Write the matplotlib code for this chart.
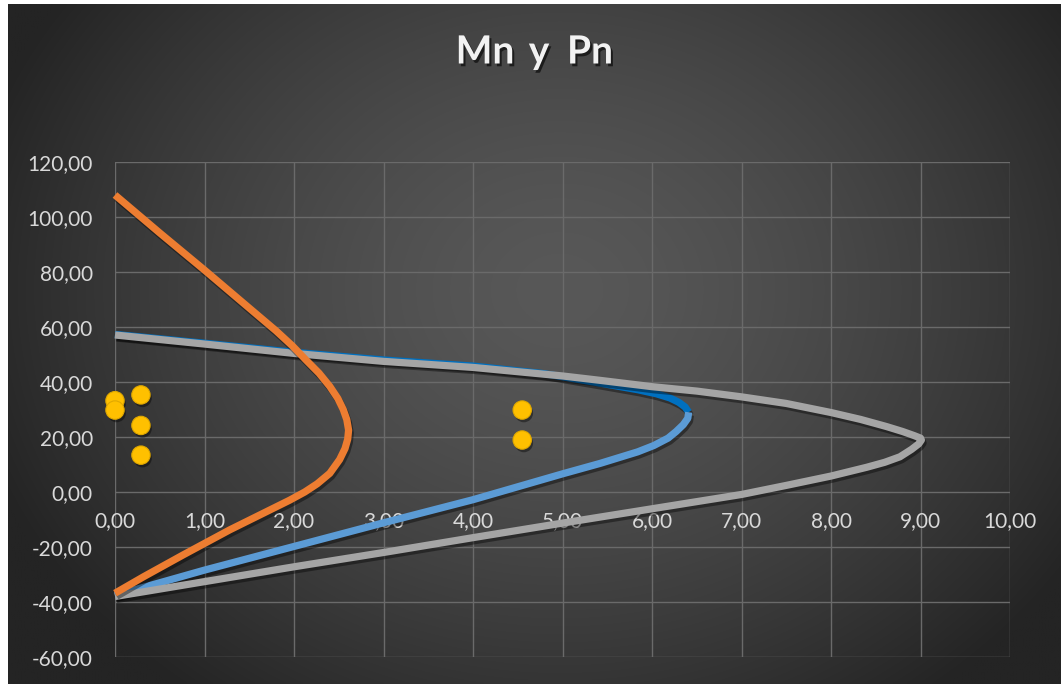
import numpy as np
import matplotlib
matplotlib.use("Agg")
import matplotlib.pyplot as plt
import matplotlib.patheffects as pe

# ---- data ----
orange_M = [0.00, 0.50, 1.00, 1.51, 1.80, 1.98, 2.14, 2.28, 2.40, 2.49, 2.55, 2.59, 2.61, 2.60, 2.57, 2.51, 2.40, 2.26, 2.12, 1.95, 1.77, 1.28, 0.76, 0.32, 0.00]
orange_P = [108.0, 94.2, 80.7, 66.6, 58.6, 53.2, 47.8, 43.2, 38.4, 34.0, 30.0, 26.3, 22.5, 19.2, 15.8, 11.8, 6.8, 3.0, 0.0, -3.0, -5.9, -13.8, -22.9, -30.8, -36.8]

blue_up_M = [0.00, 1.00, 2.00, 3.00, 4.00, 4.80, 5.42, 5.84, 6.05, 6.20, 6.30, 6.37, 6.41]
blue_up_P = [57.3, 54.1, 50.8, 48.0, 45.8, 43.0, 39.6, 37.2, 35.7, 34.2, 32.6, 30.9, 29.0]

blue_lo_M = [6.41, 6.40, 6.35, 6.27, 6.18, 6.02, 5.84, 5.42, 5.00, 4.00, 3.00, 2.00, 1.00, 0.00]
blue_lo_P = [29.0, 26.8, 24.5, 22.0, 19.6, 16.9, 14.6, 10.4, 6.6, -2.8, -11.2, -19.8, -28.4, -37.6]

gray_M = [0.00, 1.00, 2.00, 3.00, 4.00, 5.00, 5.42, 6.00, 6.50, 7.00, 7.50, 8.00, 8.33, 8.62, 8.80, 8.93, 9.00, 9.01, 8.98, 8.90, 8.77, 8.60, 8.40, 8.00, 7.50, 7.00, 6.00, 5.00, 4.00, 3.00, 2.00, 1.00, 0.00]
gray_P = [57.1, 53.8, 50.4, 47.5, 45.3, 42.2, 40.6, 38.3, 36.7, 34.6, 32.2, 28.9, 26.4, 23.8, 22.0, 20.5, 19.6, 18.9, 17.5, 15.5, 12.8, 10.8, 9.0, 5.8, 2.4, -0.9, -6.1, -11.3, -16.6, -22.0, -27.2, -32.6, -38.0]

pts_M = [0.00, 0.00, 0.29, 0.29, 0.29, 4.55, 4.55]
pts_P = [33.2, 29.8, 35.3, 24.2, 13.4, 29.8, 18.9]

x_ticks = [0, 1, 2, 3, 4, 5, 6, 7, 8, 9, 10]
y_ticks = [-60, -40, -20, 0, 20, 40, 60, 80, 100, 120]
title_words = ["Mn", "y", "Pn"]

plt.rcParams['font.family'] = ['Lato', 'DejaVu Sans']

W, H = 1061, 684
fig = plt.figure(figsize=(W / 100, H / 100), dpi=100, facecolor='white')

# background radial gradient
bg = fig.add_axes([8 / W, 0, 1 - 8 / W, 1 - 4 / H])
bg.set_axis_off()
nx, ny = 400, 260
xx, yy = np.meshgrid(np.linspace(8, W, nx), np.linspace(4, H, ny))
r = np.sqrt(((xx - 560) / 560) ** 2 + ((yy - 290) / 470) ** 2)
r = np.clip(r, 0, 1.15)
val = (88 - 46 * r ** 1.5) / 255.0
val = np.clip(val, 36 / 255, 1)
img = np.dstack([val, val, val])
bg.imshow(img, aspect='auto', extent=[0, 1, 0, 1], origin='upper', interpolation='bilinear')
bg.set_xlim(0, 1)
bg.set_ylim(0, 1)

ax = fig.add_axes([115 / W, 1 - 657 / H, 895 / W, 495 / H])
ax.set_facecolor('none')
ax.set_xlim(0, 10)
ax.set_ylim(-60, 120)
ax.set_xticks(x_ticks)
ax.set_yticks(y_ticks)
ax.set_xticklabels([f"{v:.2f}".replace('.', ',') for v in x_ticks])
ax.set_yticklabels([f"{v:.2f}".replace('.', ',') for v in y_ticks])
ax.grid(True, color='#6a6a6a', linewidth=1.0, zorder=0)
ax.set_axisbelow(True)
for s in ax.spines.values():
    s.set_visible(False)
ax.spines['bottom'].set_position(('data', 0))
ax.tick_params(axis='both', length=0, colors='#d9d9d9', labelsize=15)
ax.tick_params(axis='x', pad=14)
ax.tick_params(axis='y', pad=16)

shadow = [pe.SimpleLineShadow(offset=(1.2, -2.2), shadow_color='black', alpha=0.4), pe.Normal()]
lw = 5.2
kw = dict(lw=lw, solid_capstyle='butt', solid_joinstyle='round', path_effects=shadow, clip_on=False)
ax.plot(blue_up_M, blue_up_P, color='#0070C0', zorder=3, **kw)
ax.plot(blue_lo_M, blue_lo_P, color='#5B9BD5', zorder=3.1, **kw)
ax.plot(gray_M, gray_P, color='#A5A5A5', zorder=4, **kw)
ax.plot(orange_M, orange_P, color='#ED7D31', zorder=5, **kw)

ax.scatter(pts_M, pts_P, s=175, color='#FFC000', edgecolors='#E0A800', linewidths=0.8, zorder=6, clip_on=False,
           path_effects=[pe.SimplePatchShadow(offset=(1.2, -2.2), shadow_rgbFace='black', alpha=0.4), pe.Normal()])

title_eff = [pe.SimplePatchShadow(offset=(1.5, -2), shadow_rgbFace='black', alpha=0.6), pe.Normal()]
title_x = [485, 539, 590]
for wd, xc in zip(title_words, title_x):
    fig.text(xc / W, 1 - 52 / H, wd, ha='center', va='center', fontsize=28, fontweight='bold',
             color='#f2f2f2', path_effects=title_eff)

fig.savefig('out.png', dpi=100, facecolor='white')
